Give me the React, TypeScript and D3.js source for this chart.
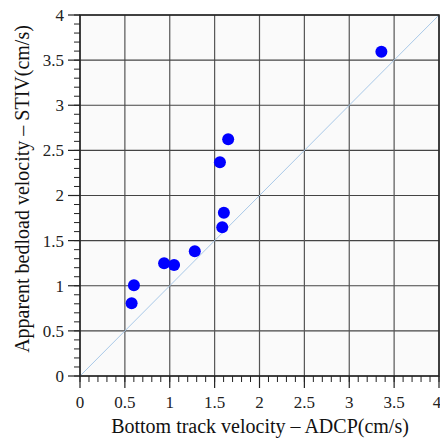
import React from 'react';
import * as d3 from 'd3';

// values
const adcpVelocity = [0.575, 0.601, 0.937, 1.048, 1.279, 1.585, 1.603, 1.559, 1.651, 3.358];
const stivVelocity = [0.806, 1.006, 1.249, 1.231, 1.382, 1.649, 1.81, 2.369, 2.624, 3.594];
const tickValues = [0, 0.5, 1, 1.5, 2, 2.5, 3, 3.5, 4];
const tickLabels = ['0', '0.5', '1', '1.5', '2', '2.5', '3', '3.5', '4'];
const minorTicks = d3.range(0, 41).map((i) => i / 10);

const points = adcpVelocity.map((x, i) => ({ x, y: stivVelocity[i] }));

const App = () => {
  const width = 440;
  const height = 440;
  const margin = { top: 15, right: 1, bottom: 64, left: 80 };

  const xScale = d3.scaleLinear().domain([0, 4]).range([margin.left, width - margin.right]);
  const yScale = d3.scaleLinear().domain([0, 4]).range([height - margin.bottom, margin.top]);

  const font = '"Liberation Serif", "Times New Roman", serif';
  const x0 = xScale(0);
  const x1 = xScale(4);
  const y0 = yScale(0);
  const y1 = yScale(4);

  return (
    <svg width={width} height={height} style={{ position: 'absolute', left: 0, top: 0 }}>
      <rect x={x0} y={y1} width={x1 - x0} height={y0 - y1} fill="#fafafa" />

      {/* grid */}
      {tickValues.map((t) => (
        <g key={'g' + t}>
          <line x1={xScale(t)} x2={xScale(t)} y1={y1} y2={y0} stroke="#555" strokeWidth={1.2} />
          <line x1={x0} x2={x1} y1={yScale(t)} y2={yScale(t)} stroke="#444" strokeWidth={1.2} />
        </g>
      ))}

      {/* 1:1 line */}
      <line x1={xScale(0)} y1={yScale(0)} x2={xScale(4)} y2={yScale(4)} stroke="#a9c9e8" strokeWidth={1} />

      {/* frame */}
      <rect x={x0} y={y1} width={x1 - x0} height={y0 - y1} fill="none" stroke="#222" strokeWidth={1.5} />

      {/* minor ticks */}
      {minorTicks.map((t) => (
        <g key={'m' + t} stroke="#222" strokeWidth={1}>
          <line x1={xScale(t)} x2={xScale(t)} y1={y0} y2={y0 + 6} />
          <line x1={x0} x2={x0 - 6} y1={yScale(t)} y2={yScale(t)} />
        </g>
      ))}

      {/* major ticks and labels */}
      {tickValues.map((t, i) => (
        <g key={'t' + t}>
          <line x1={xScale(t)} x2={xScale(t)} y1={y0} y2={y0 + 12} stroke="#222" strokeWidth={1.2} />
          <line x1={x0} x2={x0 - 12} y1={yScale(t)} y2={yScale(t)} stroke="#222" strokeWidth={1.2} />
          <text
            x={i === tickValues.length - 1 ? xScale(t) - 2 : xScale(t)}
            y={y0 + 32}
            textAnchor="middle"
            fontFamily={font}
            fontSize={17}
            fill="#222"
          >
            {tickLabels[i]}
          </text>
          <text x={x0 - 16} y={yScale(t)} dy="0.35em" textAnchor="end" fontFamily={font} fontSize={17} fill="#222">
            {tickLabels[i]}
          </text>
        </g>
      ))}

      {/* points */}
      {points.map((d, i) => (
        <circle key={i} cx={xScale(d.x)} cy={yScale(d.y)} r={6} fill="#0000ff" />
      ))}

      {/* axis titles */}
      <text x={260} y={433} textAnchor="middle" fontFamily={font} fontSize={20} fill="#111">
        Bottom track velocity – ADCP(cm/s)
      </text>
      <text
        transform={`translate(29,189) rotate(-90)`}
        textAnchor="middle"
        fontFamily={font}
        fontSize={20}
        fill="#111"
      >
        Apparent bedload velocity – STIV(cm/s)
      </text>
    </svg>
  );
};

export default App;
